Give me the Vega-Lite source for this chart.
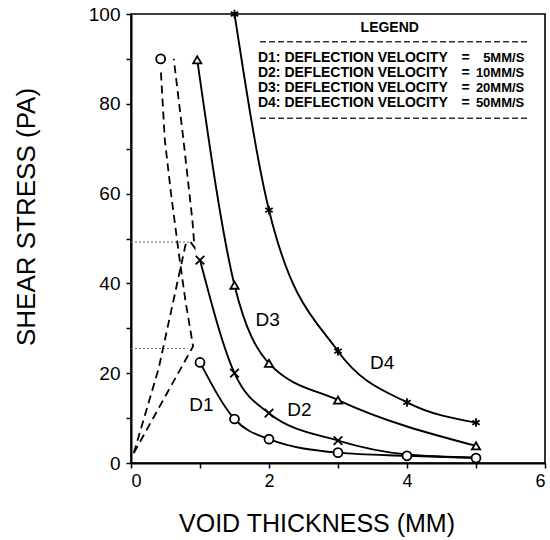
{
  "$schema": "https://vega.github.io/schema/vega-lite/v6.json",
  "autosize": {"type": "none"},
  "padding": {"left": 131, "top": 14, "right": 5, "bottom": 77},
  "width": 414,
  "height": 449,
  "background": "white",
  "config": {
    "view": {"stroke": "black", "strokeWidth": 1.6},
    "font": "Liberation Sans"
  },
  "datasets": {
    "solid": [
      {"series": "D1", "x": 1, "y": 22.4}, {"series": "D1", "x": 1.5, "y": 9.8}, {"series": "D1", "x": 2, "y": 5.3}, {"series": "D1", "x": 3, "y": 2.3}, {"series": "D1", "x": 4, "y": 1.6}, {"series": "D1", "x": 5, "y": 1.1},
      {"series": "D2", "x": 1, "y": 45.2}, {"series": "D2", "x": 1.5, "y": 20}, {"series": "D2", "x": 2, "y": 11.1}, {"series": "D2", "x": 3, "y": 5}, {"series": "D2", "x": 4, "y": 1.9}, {"series": "D2", "x": 5, "y": 1.2},
      {"series": "D3", "x": 0.96, "y": 89.8}, {"series": "D3", "x": 1.5, "y": 39.6}, {"series": "D3", "x": 2, "y": 22.2}, {"series": "D3", "x": 3, "y": 14}, {"series": "D3", "x": 5, "y": 3.8},
      {"series": "D4", "x": 1.5, "y": 100}, {"series": "D4", "x": 2, "y": 56.3}, {"series": "D4", "x": 3, "y": 24.9}, {"series": "D4", "x": 4, "y": 13.5}, {"series": "D4", "x": 5, "y": 9}
    ],
    "markers": [
      {"series": "D1", "x": 0.43, "y": 90}, {"series": "D1", "x": 1, "y": 22.4}, {"series": "D1", "x": 1.5, "y": 9.8}, {"series": "D1", "x": 2, "y": 5.3}, {"series": "D1", "x": 3, "y": 2.3}, {"series": "D1", "x": 4, "y": 1.6}, {"series": "D1", "x": 5, "y": 1.1},
      {"series": "D2", "x": 1, "y": 45.2}, {"series": "D2", "x": 1.5, "y": 20}, {"series": "D2", "x": 2, "y": 11.1}, {"series": "D2", "x": 3, "y": 5},
      {"series": "D3", "x": 0.96, "y": 89.8}, {"series": "D3", "x": 1.5, "y": 39.6}, {"series": "D3", "x": 2, "y": 22.2}, {"series": "D3", "x": 3, "y": 14}, {"series": "D3", "x": 5, "y": 3.8},
      {"series": "D4", "x": 1.5, "y": 100}, {"series": "D4", "x": 2, "y": 56.3}, {"series": "D4", "x": 3, "y": 24.9}, {"series": "D4", "x": 4, "y": 13.5}, {"series": "D4", "x": 5, "y": 9}
    ],
    "dashed": [
      {"curve": "A", "k": 1, "x": 0.04, "y": 2.2}, {"curve": "A", "k": 2, "x": 0.9, "y": 26}, {"curve": "A", "k": 3, "x": 0.79, "y": 36}, {"curve": "A", "k": 4, "x": 0.69, "y": 47}, {"curve": "A", "k": 5, "x": 0.58, "y": 60}, {"curve": "A", "k": 6, "x": 0.49, "y": 72}, {"curve": "A", "k": 7, "x": 0.43, "y": 88},
      {"curve": "B", "k": 1, "x": 0.04, "y": 2.2}, {"curve": "B", "k": 2, "x": 0.4, "y": 21}, {"curve": "B", "k": 3, "x": 0.74, "y": 45}, {"curve": "B", "k": 4, "x": 0.79, "y": 48.6}, {"curve": "B", "k": 5, "x": 0.86, "y": 49.3}, {"curve": "B", "k": 6, "x": 0.92, "y": 48}, {"curve": "B", "k": 7, "x": 0.89, "y": 54}, {"curve": "B", "k": 8, "x": 0.76, "y": 72}, {"curve": "B", "k": 9, "x": 0.62, "y": 90}
    ],
    "guides": [
      {"x": 0, "x2": 0.86, "y": 49.2},
      {"x": 0, "x2": 0.82, "y": 25.5}
    ],
    "curveLabels": [
      {"text": "D1", "x": 1.02, "y": 12.9},
      {"text": "D2", "x": 2.44, "y": 11.8},
      {"text": "D3", "x": 1.98, "y": 31.8},
      {"text": "D4", "x": 3.64, "y": 22.2}
    ],
    "legendRows": [
      {"name": "D1: DEFLECTION VELOCITY", "eq": "=", "val": "5MM/S", "y": 90.2},
      {"name": "D2: DEFLECTION VELOCITY", "eq": "=", "val": "10MM/S", "y": 86.9},
      {"name": "D3: DEFLECTION VELOCITY", "eq": "=", "val": "20MM/S", "y": 83.5},
      {"name": "D4: DEFLECTION VELOCITY", "eq": "=", "val": "50MM/S", "y": 80.2}
    ],
    "legendLines": [
      {"x": 1.87, "x2": 5.75, "y": 93.8},
      {"x": 1.87, "x2": 5.75, "y": 76.8}
    ],
    "legendTitle": [{"text": "LEGEND", "x": 3.75, "y": 96.9}]
  },
  "encoding": {
    "x": {
      "type": "quantitative",
      "scale": {"domain": [0, 6], "nice": false, "zero": false},
      "axis": {
        "title": "VOID THICKNESS (MM)",
        "values": [0, 1, 2, 3, 4, 5, 6],
        "labelExpr": "datum.value % 2 == 0 ? datum.label : ''",
        "grid": false,
        "domainColor": "black", "domainWidth": 2,
        "tickColor": "black", "tickWidth": 1.5, "tickSize": 5,
        "labelFontSize": 18, "labelColor": "black", "labelPadding": 4, "labelFont": "Liberation Sans",
        "titleFontSize": 25, "titleFontWeight": "normal", "titleColor": "black", "titleFont": "Liberation Sans",
        "titleX": 185.5, "titleY": 60, "titleBaseline": "middle"
      }
    },
    "y": {
      "type": "quantitative",
      "scale": {"domain": [0, 100], "nice": false},
      "axis": {
        "title": "SHEAR STRESS (PA)",
        "values": [0, 10, 20, 30, 40, 50, 60, 70, 80, 90, 100],
        "labelExpr": "datum.value % 20 == 0 ? datum.label : ''",
        "grid": false,
        "domainColor": "black", "domainWidth": 2,
        "tickColor": "black", "tickWidth": 1.5, "tickSize": 5,
        "labelFontSize": 19, "labelColor": "black", "labelPadding": 6, "labelFont": "Liberation Sans",
        "titleFontSize": 26, "titleFontWeight": "normal", "titleColor": "black", "titleFont": "Liberation Sans",
        "titleX": -105, "titleY": 202.5, "titleBaseline": "middle", "titleAngle": -90
      }
    }
  },
  "layer": [
    {
      "data": {"name": "guides"},
      "mark": {"type": "rule", "color": "#666666", "strokeWidth": 1, "strokeDash": [2, 2]},
      "encoding": {"x": {"field": "x"}, "x2": {"field": "x2"}, "y": {"field": "y"}}
    },
    {
      "data": {"name": "dashed"},
      "mark": {"type": "line", "color": "black", "strokeWidth": 1.8, "strokeDash": [8, 5]},
      "encoding": {
        "x": {"field": "x"},
        "y": {"field": "y"},
        "detail": {"field": "curve"},
        "order": {"field": "k", "type": "quantitative"}
      }
    },
    {
      "data": {"name": "solid"},
      "mark": {"type": "line", "color": "black", "strokeWidth": 1.9, "interpolate": "monotone"},
      "encoding": {
        "x": {"field": "x"},
        "y": {"field": "y"},
        "detail": {"field": "series"}
      }
    },
    {
      "data": {"name": "markers"},
      "mark": {"type": "point", "filled": false, "fill": "white", "fillOpacity": 1, "stroke": "black", "strokeWidth": 1.8, "opacity": 1},
      "encoding": {
        "x": {"field": "x"},
        "y": {"field": "y"},
        "shape": {
          "field": "series", "type": "nominal", "legend": null,
          "scale": {"domain": ["D1", "D2", "D3", "D4"], "range": ["circle", "M-1,-1L1,1M-1,1L1,-1", "triangle-up", "M0,-1.1L0,1.1M-0.95,-0.55L0.95,0.55M-0.95,0.55L0.95,-0.55"]}
        },
        "size": {
          "field": "series", "type": "nominal", "legend": null,
          "scale": {"domain": ["D1", "D2", "D3", "D4"], "range": [80, 60, 80, 100]}
        }
      }
    },
    {
      "data": {"name": "curveLabels"},
      "mark": {"type": "text", "fontSize": 19, "color": "black", "font": "Liberation Sans", "align": "center", "baseline": "middle"},
      "encoding": {"x": {"field": "x"}, "y": {"field": "y"}, "text": {"field": "text"}}
    },
    {
      "data": {"name": "legendLines"},
      "mark": {"type": "rule", "color": "#333333", "strokeWidth": 1.5, "strokeDash": [6, 3]},
      "encoding": {"x": {"field": "x"}, "x2": {"field": "x2"}, "y": {"field": "y"}}
    },
    {
      "data": {"name": "legendTitle"},
      "mark": {"type": "text", "fontSize": 14, "fontWeight": "bold", "color": "black", "font": "Liberation Sans", "align": "center", "baseline": "middle"},
      "encoding": {"x": {"field": "x"}, "y": {"field": "y"}, "text": {"field": "text"}}
    },
    {
      "data": {"name": "legendRows"},
      "mark": {"type": "text", "fontSize": 14, "fontWeight": "bold", "color": "black", "font": "Liberation Sans", "align": "left", "baseline": "middle"},
      "encoding": {"x": {"datum": 1.84}, "y": {"field": "y"}, "text": {"field": "name"}}
    },
    {
      "data": {"name": "legendRows"},
      "mark": {"type": "text", "fontSize": 14, "fontWeight": "bold", "color": "black", "font": "Liberation Sans", "align": "center", "baseline": "middle"},
      "encoding": {"x": {"datum": 4.85}, "y": {"field": "y"}, "text": {"field": "eq"}}
    },
    {
      "data": {"name": "legendRows"},
      "mark": {"type": "text", "fontSize": 13, "fontWeight": "bold", "color": "black", "font": "Liberation Sans", "align": "right", "baseline": "middle"},
      "encoding": {"x": {"datum": 5.7}, "y": {"field": "y"}, "text": {"field": "val"}}
    }
  ]
}
